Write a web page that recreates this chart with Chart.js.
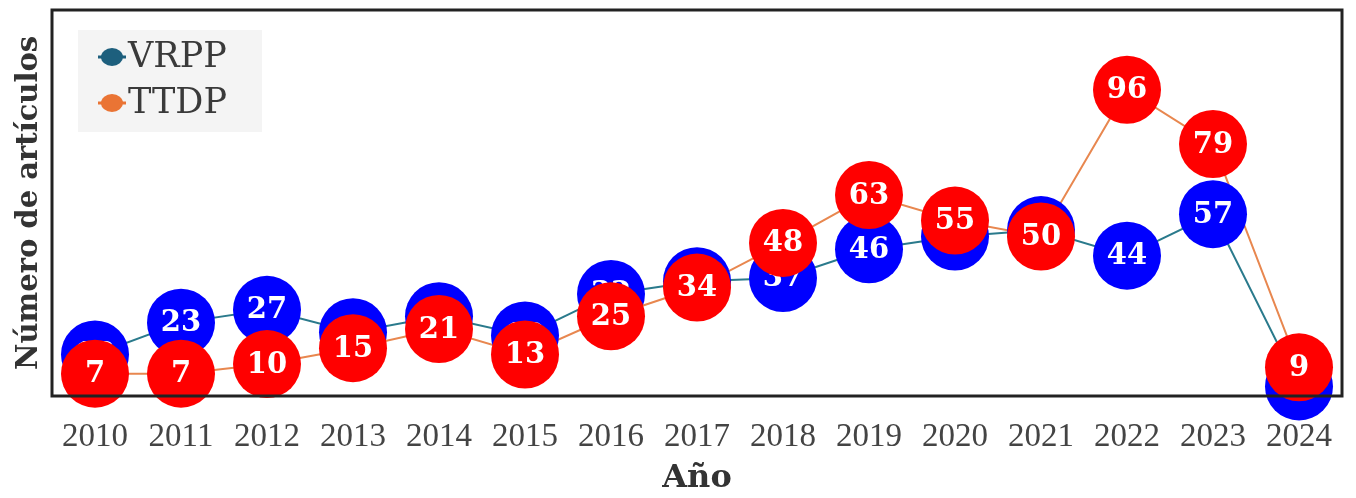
<!DOCTYPE html>
<html>
<head>
<meta charset="utf-8">
<script src="https://cdn.jsdelivr.net/npm/chart.js@4"></script>
<style>
  html, body { margin: 0; padding: 0; background: #fff; }
  #wrap { width: 1356px; height: 498px; }
</style>
</head>
<body>
<div id="wrap"><canvas id="c" width="1356" height="498"></canvas></div>
<script>
  // datos
  var years = ["2010", "2011", "2012", "2013", "2014", "2015", "2016", "2017", "2018", "2019", "2020", "2021", "2022", "2023", "2024"];
  var vrpp = [13, 23, 27, 20, 25, 19, 32, 36, 37, 46, 50, 52, 44, 57, 3];
  var ttdp = [7, 7, 10, 15, 21, 13, 25, 34, 48, 63, 55, 50, 96, 79, 9];

  var SERIF = "'Liberation Serif', 'DejaVu Serif', serif";
  var WIDE = "'DejaVu Serif', serif";
  var R = 34;

  // circulos con etiqueta + marco + leyenda
  var bubbles = {
    id: "bubbles",
    afterDatasetsDraw: function (chart) {
      var ctx = chart.ctx, a = chart.chartArea;
      var fills = ["#0000ff", "#ff0000"];
      ctx.save();
      chart.data.datasets.forEach(function (ds, i) {
        var meta = chart.getDatasetMeta(i);
        meta.data.forEach(function (pt, j) {
          ctx.beginPath();
          ctx.arc(pt.x, pt.y, R, 0, Math.PI * 2);
          ctx.fillStyle = fills[i];
          ctx.fill();
          ctx.fillStyle = "#fff";
          ctx.font = "bold 29px " + WIDE;
          ctx.textAlign = "center";
          ctx.textBaseline = "middle";
          ctx.fillText(String(ds.data[j]), pt.x, pt.y + 1);
        });
      });
      // marco
      ctx.strokeStyle = "#222";
      ctx.lineWidth = 3;
      ctx.strokeRect(a.left, a.top, a.right - a.left, a.bottom - a.top);
      // leyenda
      var lx = a.left + 26, ly = a.top + 20;
      ctx.fillStyle = "#f4f4f4";
      ctx.fillRect(lx, ly, 184, 102);
      chart.data.datasets.forEach(function (ds, i) {
        var y = ly + 27 + i * 46;
        ctx.strokeStyle = ds.legendColor;
        ctx.lineWidth = 3;
        ctx.beginPath();
        ctx.moveTo(lx + 20, y);
        ctx.lineTo(lx + 48, y);
        ctx.stroke();
        ctx.beginPath();
        ctx.ellipse(lx + 34, y, 11, 9, 0, 0, Math.PI * 2);
        ctx.fillStyle = ds.legendColor;
        ctx.fill();
        ctx.fillStyle = "#3a3a3a";
        ctx.font = "35px " + WIDE;
        ctx.textAlign = "left";
        ctx.textBaseline = "middle";
        ctx.fillText(ds.label, lx + 50, y + 1);
      });
      ctx.restore();
    }
  };

  new Chart(document.getElementById("c"), {
    type: "line",
    data: {
      labels: years,
      datasets: [
        { label: "VRPP", data: vrpp, borderColor: "#2a7a8c", legendColor: "#1d5f7d", borderWidth: 2, pointRadius: 0, pointHoverRadius: 0, tension: 0 },
        { label: "TTDP", data: ttdp, borderColor: "#e8874f", legendColor: "#ea7434", borderWidth: 2, pointRadius: 0, pointHoverRadius: 0, tension: 0 }
      ]
    },
    options: {
      responsive: false,
      animation: false,
      events: [],
      layout: { padding: { top: 10, right: 14, left: 0, bottom: 0 } },
      plugins: { legend: { display: false }, tooltip: { enabled: false } },
      scales: {
        x: {
          offset: true,
          grid: { display: false, drawTicks: false },
          border: { display: false },
          ticks: { color: "#444", font: { family: SERIF, size: 33 }, padding: 22, maxRotation: 0, autoSkip: false },
          title: { display: true, text: "Año", color: "#333", font: { family: WIDE, size: 32, weight: "bold" }, padding: { top: 2, bottom: 0 } },
          afterFit: function (s) { s.height = 102; }
        },
        y: {
          min: 0, max: 121,
          grid: { display: false, drawTicks: false },
          border: { display: false },
          ticks: { display: false },
          title: { display: true, text: "Número de artículos", color: "#333", font: { family: WIDE, size: 29, weight: "bold" }, padding: { top: 12, bottom: 0 } },
          afterFit: function (s) { s.width = 52; }
        }
      }
    },
    plugins: [bubbles]
  });
</script>
</body>
</html>
